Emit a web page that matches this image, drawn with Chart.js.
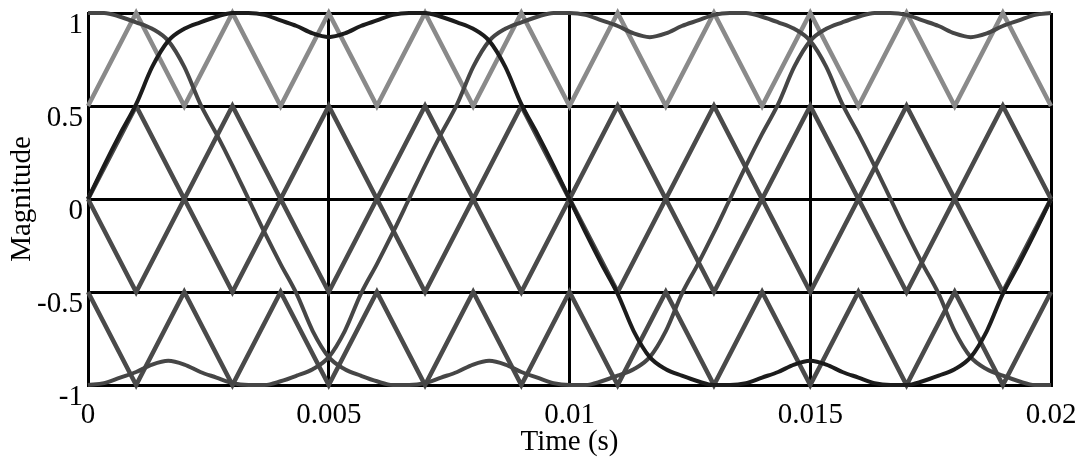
<!DOCTYPE html>
<html>
<head>
<meta charset="utf-8">
<script src="https://cdn.jsdelivr.net/npm/chart.js@4.4.1/dist/chart.umd.min.js"></script>
<style>
  body { margin: 0; background: #fff; }
  canvas { display: block; }
</style>
</head>
<body>
<canvas id="pwmChart" width="1086" height="465"></canvas>
<script>
// time samples (s) for the three reference waves and for the carriers
var sineTime = [0, 0.000333, 0.000667, 0.001, 0.001333, 0.001667, 0.002, 0.002333, 0.002667, 0.003,
    0.003333, 0.003667, 0.004, 0.004333, 0.004667, 0.005, 0.005333, 0.005667, 0.006, 0.006333,
    0.006667, 0.007, 0.007333, 0.007667, 0.008, 0.008333, 0.008667, 0.009, 0.009333, 0.009667,
    0.01, 0.010333, 0.010667, 0.011, 0.011333, 0.011667, 0.012, 0.012333, 0.012667, 0.013,
    0.013333, 0.013667, 0.014, 0.014333, 0.014667, 0.015, 0.015333, 0.015667, 0.016, 0.016333,
    0.016667, 0.017, 0.017333, 0.017667, 0.018, 0.018333, 0.018667, 0.019, 0.019333, 0.019667, 0.02];
var carrierTime = [0, 0.001, 0.002, 0.003, 0.004, 0.005, 0.006, 0.007, 0.008, 0.009, 0.01,
    0.011, 0.012, 0.013, 0.014, 0.015, 0.016, 0.017, 0.018, 0.019, 0.02];

var phaseA = [0, 0.18, 0.35, 0.51, 0.71, 0.85, 0.915, 0.95, 0.98, 1.0, 1.0, 0.99, 0.96, 0.93, 0.89,
    0.87, 0.89, 0.93, 0.96, 0.99, 1.0, 1.0, 0.98, 0.95, 0.915, 0.85, 0.71, 0.51, 0.35, 0.18,
    0, -0.18, -0.35, -0.51, -0.71, -0.85, -0.915, -0.95, -0.98, -1.0, -1.0, -0.99, -0.96, -0.93, -0.89,
    -0.87, -0.89, -0.93, -0.96, -0.99, -1.0, -1.0, -0.98, -0.95, -0.915, -0.85, -0.71, -0.51, -0.35, -0.18, 0];
var phaseB = [-1.0, -0.99, -0.96, -0.93, -0.89, -0.87, -0.89, -0.93, -0.96, -0.99, -1.0, -1.0, -0.98, -0.95,
    -0.915, -0.85, -0.71, -0.51, -0.35, -0.18,
    0, 0.18, 0.35, 0.51, 0.71, 0.85, 0.915, 0.95, 0.98, 1.0, 1.0, 0.99, 0.96, 0.93, 0.89,
    0.87, 0.89, 0.93, 0.96, 0.99, 1.0, 1.0, 0.98, 0.95, 0.915, 0.85, 0.71, 0.51, 0.35, 0.18,
    0, -0.18, -0.35, -0.51, -0.71, -0.85, -0.915, -0.95, -0.98, -1.0, -1.0];
var phaseC = [1.0, 1.0, 0.98, 0.95, 0.915, 0.85, 0.71, 0.51, 0.35, 0.18,
    0, -0.18, -0.35, -0.51, -0.71, -0.85, -0.915, -0.95, -0.98, -1.0, -1.0, -0.99, -0.96, -0.93, -0.89,
    -0.87, -0.89, -0.93, -0.96, -0.99, -1.0, -1.0, -0.98, -0.95, -0.915, -0.85, -0.71, -0.51, -0.35, -0.18,
    0, 0.18, 0.35, 0.51, 0.71, 0.85, 0.915, 0.95, 0.98, 1.0, 1.0, 0.99, 0.96, 0.93, 0.89,
    0.87, 0.89, 0.93, 0.96, 0.99, 1.0];

var carrier1 = [0.5, 1, 0.5, 1, 0.5, 1, 0.5, 1, 0.5, 1, 0.5, 1, 0.5, 1, 0.5, 1, 0.5, 1, 0.5, 1, 0.5];
var carrier2 = [0, 0.5, 0, 0.5, 0, 0.5, 0, 0.5, 0, 0.5, 0, 0.5, 0, 0.5, 0, 0.5, 0, 0.5, 0, 0.5, 0];
var carrier3 = [0, -0.5, 0, -0.5, 0, -0.5, 0, -0.5, 0, -0.5, 0, -0.5, 0, -0.5, 0, -0.5, 0, -0.5, 0, -0.5, 0];
var carrier4 = [-0.5, -1, -0.5, -1, -0.5, -1, -0.5, -1, -0.5, -1, -0.5, -1, -0.5, -1, -0.5, -1, -0.5, -1, -0.5, -1, -0.5];

var xTickValues = [0, 0.005, 0.01, 0.015, 0.02];
var xTickLabels = ['0', '0.005', '0.01', '0.015', '0.02'];
var yTickValues = [-1, -0.5, 0, 0.5, 1];
var yTickLabels = ['-1', '-0.5', '0', '0.5', '1'];

var serif = '"Liberation Serif", "DejaVu Serif", serif';

function points(xs, ys) {
    return xs.map(function (x, i) { return { x: x, y: ys[i] }; });
}

function wave(data, color) {
    return {
        data: data,
        borderColor: color,
        borderWidth: 4,
        pointRadius: 0,
        cubicInterpolationMode: 'monotone',
        clip: 6
    };
}

function carrier(data, color) {
    return {
        data: data,
        borderColor: color,
        borderWidth: 4.5,
        pointRadius: 0,
        tension: 0,
        clip: 6
    };
}

// y tick labels sit just below their grid line in the original
var yLabelPlugin = {
    id: 'yLabels',
    afterDraw: function (chart) {
        var ctx = chart.ctx;
        var s = chart.scales.y;
        ctx.save();
        ctx.font = '29px ' + serif;
        ctx.fillStyle = '#000';
        ctx.textAlign = 'right';
        ctx.textBaseline = 'alphabetic';
        yTickValues.forEach(function (v, i) {
            ctx.fillText(yTickLabels[i], chart.chartArea.left - 5, s.getPixelForValue(v) + 20);
        });
        ctx.restore();
    }
};

var ctx = document.getElementById('pwmChart');
var pwmChart = new Chart(ctx, {
    type: 'line',
    data: {
        datasets: [
            wave(points(sineTime, phaseA), '#1c1c1c'),
            wave(points(sineTime, phaseB), '#464646'),
            wave(points(sineTime, phaseC), '#464646'),
            carrier(points(carrierTime, carrier1), '#8a8a8a'),
            carrier(points(carrierTime, carrier2), '#4a4a4a'),
            carrier(points(carrierTime, carrier3), '#4a4a4a'),
            carrier(points(carrierTime, carrier4), '#4a4a4a')
        ]
    },
    options: {
        responsive: false,
        animation: false,
        layout: {
            padding: { left: 8, right: 35, top: 13, bottom: 8 }
        },
        plugins: {
            legend: { display: false },
            tooltip: { enabled: false }
        },
        scales: {
            x: {
                type: 'linear',
                min: 0,
                max: 0.02,
                afterBuildTicks: function (s) {
                    s.ticks = xTickValues.map(function (v) { return { value: v }; });
                },
                afterFit: function (s) {
                    s.paddingLeft = 0;
                    s.paddingRight = 0;
                },
                grid: { color: '#000', lineWidth: 3, drawTicks: false },
                border: { color: '#000', width: 3 },
                ticks: {
                    color: '#000',
                    padding: 16,
                    maxRotation: 0,
                    font: { family: serif, size: 29, lineHeight: 1 },
                    callback: function (v, i) { return xTickLabels[i]; }
                },
                title: {
                    display: true,
                    text: 'Time (s)',
                    color: '#000',
                    padding: { top: -18, bottom: 0 },
                    font: { family: serif, size: 29, lineHeight: 1 }
                }
            },
            y: {
                min: -1,
                max: 1,
                afterBuildTicks: function (s) {
                    s.ticks = yTickValues.map(function (v) { return { value: v }; });
                },
                grid: { color: '#000', lineWidth: 3, drawTicks: false },
                border: { color: '#000', width: 3 },
                ticks: { display: false },
                title: {
                    display: true,
                    text: 'Magnitude',
                    color: '#000',
                    padding: { top: 0, bottom: 51 },
                    font: { family: serif, size: 29, lineHeight: 1 }
                }
            }
        }
    },
    plugins: [yLabelPlugin]
});
</script>
</body>
</html>
